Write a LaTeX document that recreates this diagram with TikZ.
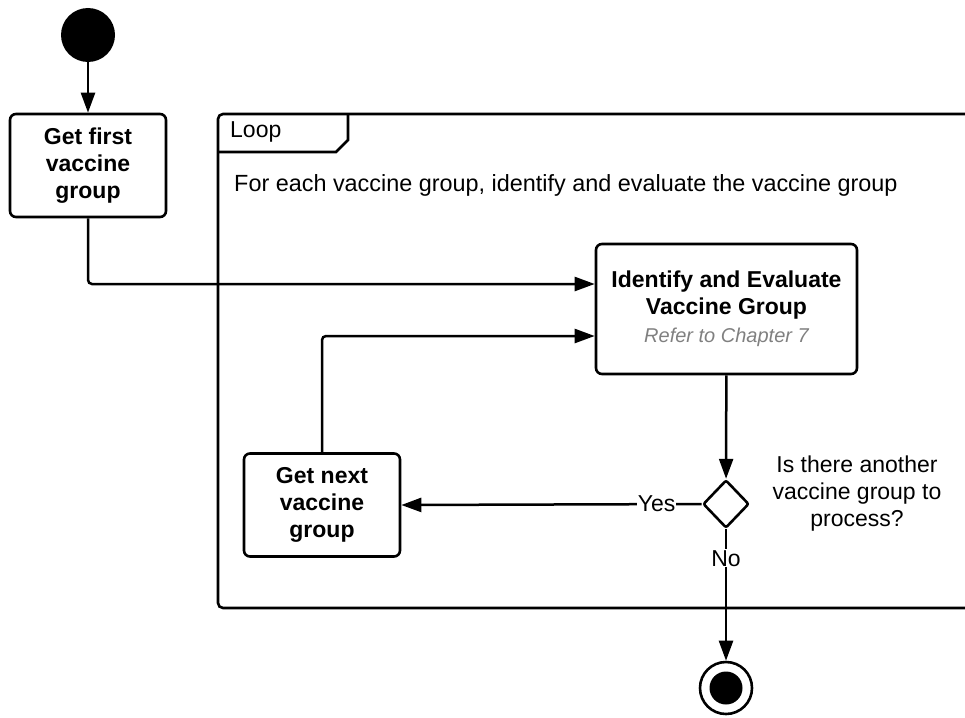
\documentclass[tikz,border=0pt]{standalone}
\usepackage{fontspec}
\setmainfont{Liberation Sans}
\usetikzlibrary{arrows.meta,shapes.geometric,positioning}
\definecolor{cLine}{RGB}{0,0,0}
\definecolor{cNote}{RGB}{128,128,128}
\tikzset{
  basebox/.style={rectangle,rounded corners=6pt,draw=cLine,line width=2.6pt,
                  align=center,font=\fontsize{23}{27}\selectfont\bfseries,inner sep=2pt},
  actnode/.style={basebox,minimum width=156pt,minimum height=103pt},
  bignode/.style={basebox,minimum width=261pt,minimum height=130pt},
  decnode/.style={diamond,draw=cLine,line width=2.6pt,minimum width=46pt,
                  minimum height=48pt,inner sep=0pt,rounded corners=2pt},
  startnode/.style={circle,fill=cLine,minimum size=54pt,inner sep=0pt},
  endnode/.style={circle,draw=cLine,line width=2.6pt,minimum size=52pt,inner sep=0pt},
  txt/.style={font=\fontsize{23}{27}\selectfont,inner sep=0pt},
  lbl/.style={txt,fill=white,inner sep=1pt},
  arr/.style={-{Triangle[length=20pt,width=14pt]},line width=2.5pt,color=cLine},
  frame/.style={line width=2.6pt,draw=cLine}
}
\begin{document}
\begin{tikzpicture}[x=1pt,y=-1pt]
  \useasboundingbox (0,0) rectangle (965,717);
  \clip (0,0) rectangle (965,717);

  % loop frame
  \draw[frame,rounded corners=5pt] (990,114) -- (218,114) -- (218,608) -- (990,608);
  \draw[frame] (218,152) -- (336,152) -- (348,140) -- (348,114);
  \node[txt,anchor=base west] (looptag) at (230,137) {Loop};
  \node[txt,font=\fontsize{23.4}{27}\selectfont,anchor=base west] (loopnote) at (234,191)
    {For each vaccine group, identify and evaluate the vaccine group};

  % nodes
  \node[startnode] (start) at (88,35) {};
  \node[actnode] (getfirst) at (88,165.5) {Get first\\vaccine\\group};
  \node[bignode] (identify) at (726.5,309) {Identify and Evaluate\\Vaccine Group\\[1pt]
    {\fontsize{20}{24}\selectfont\mdseries\itshape\color{cNote}Refer to Chapter 7}};
  \node[decnode] (decide) at (726,504) {};
  \node[txt,align=center] (question) at (857,494)
    {Is there another\\vaccine group to\\process?};
  \node[actnode] (getnext) at (322,505) {Get next\\vaccine\\group};
  \node[endnode] (finish) at (726,688) {};
  \node[startnode,minimum size=33pt] (finishdot) at (finish) {};

  % connectors
  \draw[arr] (start) -- (getfirst);
  \draw[arr,rounded corners=4pt] (getfirst) |- ([yshift=25pt]identify.west);
  \draw[arr,rounded corners=4pt] (getnext) |- ([yshift=-27pt]identify.west);
  \draw[arr] (identify) -- (decide);
  \draw[arr] (decide.west) -- node[lbl,pos=0.15] (yes) {Yes} (getnext.east);
  \draw[arr] (decide.south) -- node[lbl,pos=0.22] (no) {No} (finish);
\end{tikzpicture}
\end{document}
